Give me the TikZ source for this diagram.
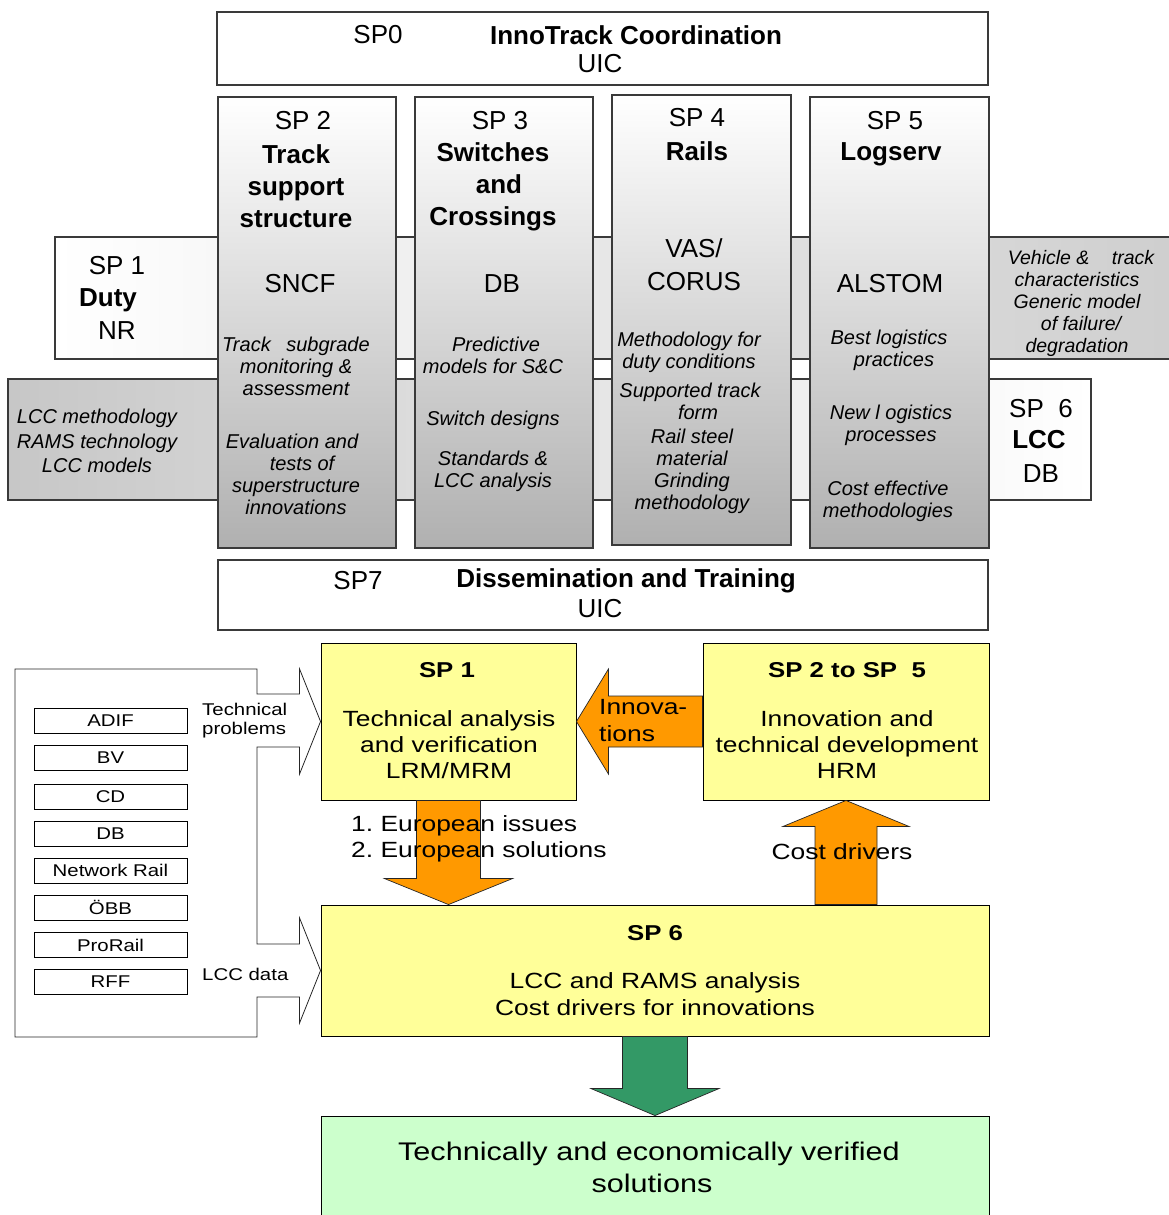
\documentclass[tikz,border=0pt]{standalone}
\usepackage{fontspec}
\setmainfont{Liberation Sans}
\newfontfamily\wide[FakeStretch=1.2]{Liberation Sans}
\usetikzlibrary{calc}
\definecolor{yel}{HTML}{FFFF99}
\definecolor{grn}{HTML}{CCFFCC}
\definecolor{org}{HTML}{FF9900}
\definecolor{dgrn}{HTML}{339966}
\definecolor{edge}{HTML}{3A3A3A}
\frenchspacing
\begin{document}
\begin{tikzpicture}[x=1pt,y=-1pt,
  box/.style={draw=edge, line width=1.4pt, fill=white, inner sep=0pt},
  col/.style={draw=edge, line width=1.4pt, top color=white, bottom color=black!31, inner sep=0pt},
  txt/.style={inner sep=0pt, align=center, font=\fontsize{26}{32}\selectfont},
  btxt/.style={inner sep=0pt, align=center, font=\fontsize{26}{32}\selectfont\bfseries},
  itxt/.style={inner sep=0pt, align=center, font=\fontsize{20}{22}\selectfont\itshape},
  ybox/.style={draw=black, line width=0.9pt, fill=yel, inner sep=0pt},
  gbox/.style={draw=black, line width=0.9pt, fill=grn, inner sep=0pt},
  wtxt/.style={inner sep=0pt, align=center, font=\wide\fontsize{22}{26}\selectfont},
  wbtxt/.style={inner sep=0pt, align=center, font=\wide\fontsize{21.5}{26}\selectfont\bfseries},
  stxt/.style={inner sep=0pt, align=left, font=\wide\fontsize{17}{19}\selectfont},
  membox/.style={draw=black, line width=0.8pt, fill=white, inner sep=0pt, minimum width=153pt, minimum height=25pt, font=\wide\fontsize{17}{19}\selectfont},
  oarrow/.style={draw=black!85, line width=0.7pt, fill=org},
  garrow/.style={draw=black!85, line width=0.7pt, fill=dgrn},
  outline/.style={draw=black!85, line width=0.8pt, fill=white}
]
\useasboundingbox (0,0) rectangle (1168,1215);
\fill[white] (0,0) rectangle (1168,1215);

% ---------------- top part ----------------
\node[box, minimum width=771pt, minimum height=73pt] (sp0) at (602.5,48.5) {};
\node[txt] (sp0a) at (378,35) {SP0};
\node[btxt] (sp0b) at (636,35) {InnoTrack Coordination};
\node[txt] (sp0c) at (600,64) {UIC};

% gradient bars
\node[draw=edge, line width=1.4pt, left color=white, right color=black!19, inner sep=0pt,
      minimum width=1120pt, minimum height=122pt] (row1) at (615,298) {};
\node[draw=edge, line width=1.4pt, left color=black!22, right color=white, inner sep=0pt,
      minimum width=1083pt, minimum height=121pt] (row2) at (549.5,439.5) {};

% columns
\node[col, minimum width=178pt, minimum height=451pt] (c2) at (307,322.5) {};
\node[col, minimum width=178pt, minimum height=451pt] (c3) at (504,322.5) {};
\node[col, minimum width=179pt, minimum height=450pt] (c4) at (701.5,320) {};
\node[col, minimum width=179pt, minimum height=451pt] (c5) at (899.5,322.5) {};

% SP1 / LCC (left)
\node[txt] (sp1a) at (117,266) {SP 1};
\node[btxt] (sp1b) at (108,300) {Duty};
\node[txt] (sp1c) at (117,331) {NR};
\node[itxt, font=\fontsize{20}{24.5}\selectfont\itshape] (lcc) at (97,441) {LCC methodology\\RAMS technology\\LCC models};

% right
\node[itxt, font=\fontsize{19.5}{22}\selectfont\itshape] (veh) at (1077,303)
  {\hspace*{8pt}Vehicle \&\hspace{1.15em}track\\characteristics\\Generic model\hspace*{8pt}\\\hspace*{8pt}of failure/\\degradation};
\node[txt] (sp6a) at (1041,409) {SP\ \ 6};
\node[btxt] (sp6b) at (1039,440) {LCC};
\node[txt] (sp6c) at (1041,474) {DB};

% SP2
\node[txt] (t2a) at (303,121) {SP 2};
\node[btxt] (t2b) at (296,186) {Track\\support\\structure};
\node[txt] (t2c) at (300,284) {SNCF};
\node[itxt] (t2d) at (296,366) {Track\hspace{0.78em}subgrade\\monitoring \&\\assessment};
\node[itxt] (t2e) at (296,474) {Evaluation and\hspace*{8pt}\\\hspace*{12pt}tests of\\superstructure\\innovations};

% SP3
\node[txt] (t3a) at (500,121) {SP 3};
\node[btxt] (t3b) at (493,187) {Switches\\\hspace*{12pt}and\\Crossings};
\node[txt] (t3c) at (502,284) {DB};
\node[itxt] (t3d) at (493,355) {\hspace*{6pt}Predictive\\models for S\&C};
\node[itxt] (t3e) at (493,420) {Switch designs};
\node[itxt] (t3f) at (493,471.5) {Standards \&\\LCC analysis};

% SP4
\node[txt] (t4a) at (697,118) {SP 4};
\node[btxt] (t4b) at (697,151) {Rails};
\node[txt, font=\fontsize{26}{33}\selectfont] (t4c) at (694,264.5) {VAS/\\CORUS};
\node[itxt] (t4d) at (689,352) {Methodology for\\duty conditions};
\node[itxt] (t4e) at (690,401) {Supported track\\\hspace*{16pt}form};
\node[itxt] (t4f) at (692,471) {Rail steel\\material\\Grinding\\methodology};

% SP5
\node[txt] (t5a) at (895,121) {SP 5};
\node[btxt] (t5b) at (891,154) {Logserv};
\node[txt] (t5c) at (890,284) {ALSTOM};
\node[itxt] (t5d) at (889,350) {Best logistics\\\hspace*{10pt}practices};
\node[itxt] (t5e) at (891,425) {New l ogistics\\processes};
\node[itxt] (t5f) at (888,501) {Cost effective\\methodologies};

% SP7
\node[box, minimum width=770pt, minimum height=70pt] (sp7) at (603,595) {};
\node[txt] (sp7a) at (358,581) {SP7};
\node[btxt] (sp7b) at (626,581) {Dissemination and Training};
\node[txt] (sp7c) at (600,609) {UIC};

% ---------------- bottom part ----------------
\node[ybox, minimum width=255pt, minimum height=157pt] (sp1y) at (448.5,721.5) {};
\node[ybox, minimum width=286pt, minimum height=157pt] (sp25) at (846,721.5) {};
\node[ybox, minimum width=668pt, minimum height=131pt] (sp6) at (655,970.5) {};
\node[gbox, minimum width=668pt, minimum height=114pt] (res) at (655,1173) {};

% left outline with two block arrows
\draw[outline] (15,669) -- (257,669) -- (257,694) -- ($(sp1y.west)+(-21,-27.5)$)
  -- ($(sp1y.west)+(-21,-52.5)$) -- (sp1y.west) -- ($(sp1y.west)+(-21,52.5)$)
  -- ($(sp1y.west)+(-21,25.5)$) -- (257,747) -- (257,944) -- ($(sp6.west)+(-21,-26.5)$)
  -- ($(sp6.west)+(-21,-52.5)$) -- (sp6.west) -- ($(sp6.west)+(-21,52.5)$)
  -- ($(sp6.west)+(-21,26.5)$) -- (257,997) -- (257,1037) -- (15,1037) -- cycle;

\foreach \n/\t/\yy in {m1/ADIF/721, m2/BV/758, m3/CD/797, m4/DB/834, m5/Network Rail/870.5, m6/ÖBB/907.5, m7/ProRail/945, m8/RFF/982}
  \node[membox] (\n) at (110.5,\yy) {\t};
\node[stxt, anchor=west] (tp) at (202,720.5) {Technical\\problems};
\node[stxt, anchor=west] (ld) at (202,974) {LCC data};

% block arrows
\draw[oarrow] ($(sp25.west)+(0,-25.5)$) -- ($(sp1y.east)+(32,-25.5)$) -- ($(sp1y.east)+(32,-52.5)$)
  -- (sp1y.east) -- ($(sp1y.east)+(32,52.5)$) -- ($(sp1y.east)+(32,25.5)$) -- ($(sp25.west)+(0,25.5)$) -- cycle;
\coordinate (eu) at (sp1y.south |- sp6.north);
\draw[oarrow] ($(sp1y.south)+(-32,0)$) -- ($(sp1y.south)+(32,0)$) -- ($(eu)+(32,-26)$) -- ($(eu)+(64,-26)$)
  -- (eu) -- ($(eu)+(-64,-26)$) -- ($(eu)+(-32,-26)$) -- cycle;
\coordinate (cd) at (sp25.south |- sp6.north);
\draw[oarrow] ($(cd)+(-31,0)$) -- ($(cd)+(31,0)$) -- ($(sp25.south)+(31,26)$) -- ($(sp25.south)+(63,26)$)
  -- (sp25.south) -- ($(sp25.south)+(-63,26)$) -- ($(sp25.south)+(-31,26)$) -- cycle;
\draw[garrow] ($(sp6.south)+(-32.5,0)$) -- ($(sp6.south)+(32.5,0)$) -- ($(res.north)+(32.5,-27)$) -- ($(res.north)+(64,-27)$)
  -- (res.north) -- ($(res.north)+(-64,-27)$) -- ($(res.north)+(-32.5,-27)$) -- cycle;

% bottom texts
\node[wbtxt] (y1a) at (447,670) {SP 1};
\node[wtxt] (y1b) at (449,745) {Technical analysis\\and verification\\LRM/MRM};
\node[wbtxt] (y2a) at (847,670) {SP 2 to SP\ \ 5};
\node[wtxt] (y2b) at (847,745) {Innovation and\\technical development\\HRM};
\node[wtxt, align=left, anchor=west, font=\wide\fontsize{22}{27}\selectfont] (inn) at (599,720.5) {Innova-\\tions};
\node[wtxt, align=left, anchor=west] (eut) at (351,839) {1. European issues\\2. European solutions};
\node[wtxt] (cdt) at (842,852) {Cost drivers};
\node[wbtxt] (y6a) at (655,933) {SP 6};
\node[wtxt, font=\wide\fontsize{22}{27}\selectfont] (y6b) at (655,994.5) {LCC and RAMS analysis\\Cost drivers for innovations};
\node[wtxt, font=\wide\fontsize{25.5}{32}\selectfont] (rest) at (649,1167) {Technically and economically verified\\\hspace*{6pt}solutions};
\end{tikzpicture}
\end{document}
